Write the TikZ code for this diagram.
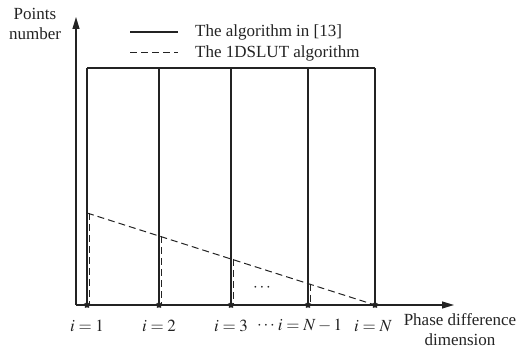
\documentclass[tikz,border=0pt]{standalone}
\usepackage{mathptmx}
\usepackage{fontspec}
\setmainfont{Liberation Serif}
\usepackage{tikz}
\usetikzlibrary{shapes.geometric, arrows.meta, positioning}
\definecolor{mydark}{RGB}{35,35,35}
\tikzset{
  axis/.style={-{Triangle[length=12pt, width=7pt]}, line width=1.2pt, color=mydark},
  solidline/.style={line width=1.2pt, color=mydark},
  dashline/.style={dash pattern=on 7pt off 4pt, line width=1pt, color=mydark},
  axstar/.style={star, star points=5, fill=mydark, inner sep=0pt, minimum size=7pt},
  lbl/.style={font=\fontsize{17}{20}\selectfont, inner sep=1pt, text=mydark}
}

\begin{document}
\begin{tikzpicture}[x=1pt, y=-1pt]
  \useasboundingbox (0,0) rectangle (517,352);

  % Axes
  \coordinate (O) at (76,305);
  \coordinate (ytip) at (76,17);
  \coordinate (xtip) at (454,305);
  \draw[axis] (O) -- (ytip);
  \draw[axis] (O) -- (xtip);
  \node[lbl, align=center] (ylab) at (35,24) {Points\\number};
  \node[lbl, align=center] (xlab) at (460,330) {Phase difference\\dimension};

  % Legend
  \coordinate (ls1) at (130,32);
  \coordinate (le1) at (178,32);
  \coordinate (ls2) at (130,53);
  \coordinate (le2) at (178,53);
  \draw[solidline] (ls1) -- (le1);
  \draw[dashline] (ls2) -- (le2);
  \node[lbl, anchor=west] (leg1) at (194,32) {The algorithm in [13]};
  \node[lbl, anchor=west] (leg2) at (194,53) {The 1DSLUT algorithm};

  % Bars
  \foreach \n/\x in {1/87, 2/159, 3/231, 4/308, 5/375} {
    \pgfmathsetmacro\dy{213+(\x-87)*0.3194}
    \coordinate (b\n) at (\x,305);
    \coordinate (t\n) at (\x,68);
    \coordinate (d\n) at (\x+2.5,\dy);
    \coordinate (e\n) at (\x+2.5,305);
    \draw[solidline] (b\n) -- (t\n);
  }
  \foreach \n in {1,...,4} {
    \draw[dashline] (d\n) -- (e\n);
  }
  \draw[solidline] (t1) -- (t5);
  \draw[dashline] (87,213) -- (b5);
  \foreach \n in {1,...,5} {
    \node[axstar] (s\n) at (b\n) {};
  }
  \node[lbl] (gap) at (262,288) {$\cdots$};

  % Labels
  \node[lbl] (i1) at (87,326) {$i=1$};
  \node[lbl] (i2) at (159,326) {$i=2$};
  \node[lbl] (i3) at (231,326) {$i=3$};
  \node[lbl] (idots) at (266,326) {$\cdots$};
  \node[lbl] (i4) at (310,326) {$i=N-1$};
  \node[lbl] (i5) at (373,326) {$i=N$};
\end{tikzpicture}
\end{document}
